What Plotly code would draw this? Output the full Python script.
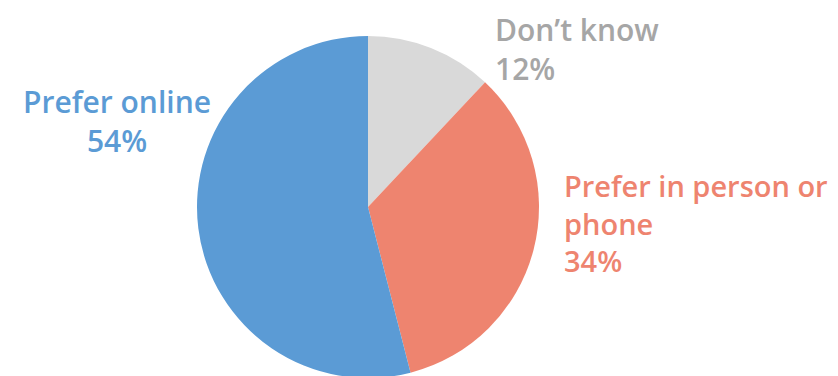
import plotly.graph_objects as go

labels = ["Don\u2019t know", "Prefer in person or phone", "Prefer online"]
values = [12, 34, 54]
slice_colors = ["#D9D9D9", "#EE846F", "#5B9BD5"]
text_colors = ["#A6A6A6", "#EE846F", "#5B9BD5"]
label_lines = ["Don\u2019t know", "Prefer in person or<br>phone", "Prefer online"]

W, H = 838, 376
fig = go.Figure(go.Pie(
    labels=labels, values=values, sort=False, direction="clockwise", rotation=0,
    marker=dict(colors=slice_colors, line=dict(width=0)),
    textinfo="none", hoverinfo="label+percent", showlegend=False,
    domain=dict(x=[189 / W, 531 / W], y=[6 / H, 348 / H]),
))

font_family = "Open Sans"
pos = [
    dict(x=486 / W, y=1.0, xanchor="left", align="left", fs=30),
    dict(x=555 / W, y=1 - 157 / H, xanchor="left", align="left", fs=29),
    dict(x=109 / W, y=1 - 72 / H, xanchor="center", align="center", fs=30),
]
for lab, v, c, p in zip(label_lines, values, text_colors, pos):
    fig.add_annotation(
        text=f"{lab}<br>{v}%", xref="paper", yref="paper", x=p["x"], y=p["y"],
        xanchor=p["xanchor"], yanchor="top", align=p["align"], showarrow=False,
        borderpad=0,
        font=dict(family=font_family, size=p["fs"], color=c, weight=600),
    )

fig.update_layout(
    width=W, height=H, margin=dict(l=0, r=0, t=0, b=0),
    paper_bgcolor="white", plot_bgcolor="white",
)
fig.write_html("out.html")
